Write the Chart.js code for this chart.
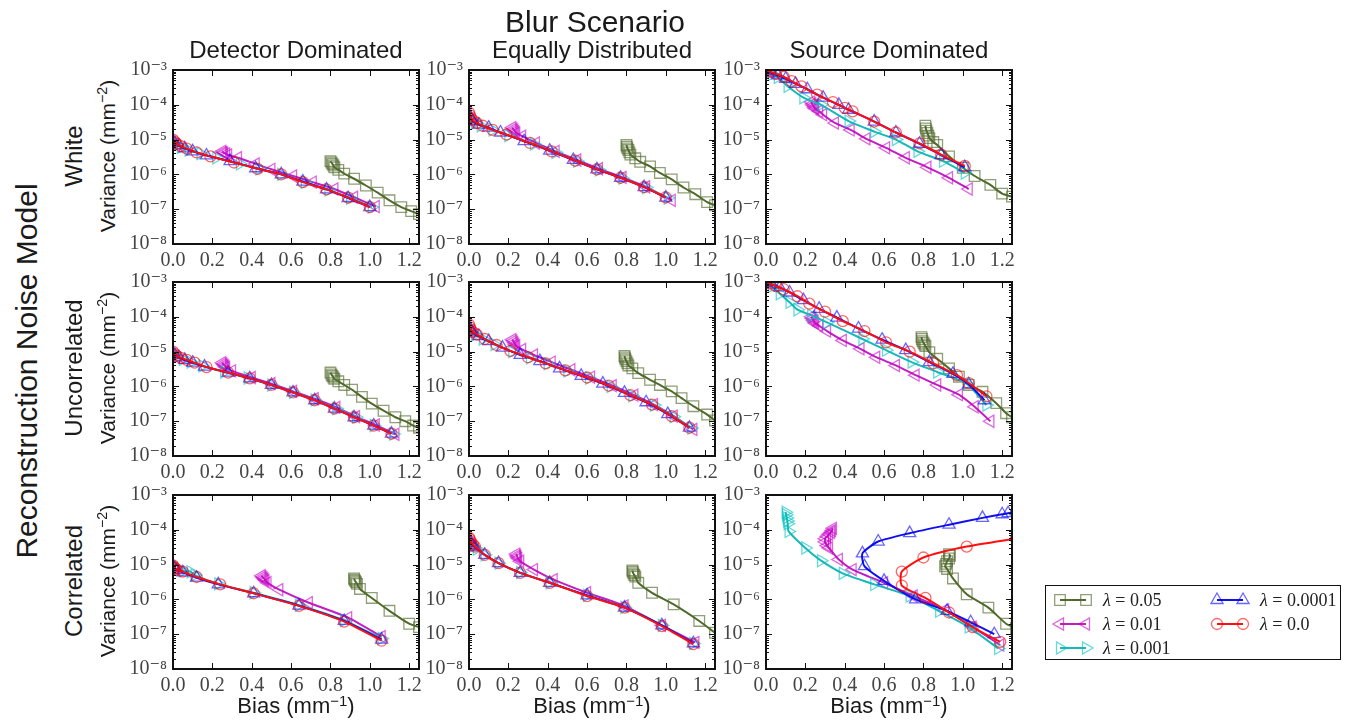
<!DOCTYPE html>
<html>
<head>
<meta charset="utf-8">
<script src="https://cdn.jsdelivr.net/npm/chart.js@4.4.1/dist/chart.umd.min.js"></script>
<style>
  body { margin: 0; background: #fff; }
  #fig { position: relative; width: 1355px; height: 721px; overflow: hidden;
         font-family: 'Liberation Sans', Arial, sans-serif; color: #1a1a1a; }
  .lbl { position: absolute; white-space: nowrap; transform: translate(-50%, -50%); line-height: 1; }
  .rot { transform: translate(-50%, -50%) rotate(-90deg); }
  canvas { position: absolute; }
  sup { font-size: 0.68em; vertical-align: 0.5em; line-height: 0; }
  #legend { position: absolute; left: 1045px; top: 585px; width: 296px; height: 75px;
            border: 1.5px solid #111; box-sizing: border-box; background: #fff; }
  .lgItem { position: absolute; display: flex; align-items: center; height: 20px;
            font-family: 'Liberation Serif', 'DejaVu Serif', serif; font-size: 18px; color: #222; }
  .lgItem canvas { position: static; margin-right: 9px; }
</style>
</head>
<body>
<div id="fig"></div>
<script>
// ---- data: bias (mm^-1), variance (mm^-2) pairs ----
const rowNames = ['White', 'Uncorrelated', 'Correlated'];
const colNames = ['Detector Dominated', 'Equally Distributed', 'Source Dominated'];
const seriesLabels = ['0.05', '0.01', '0.001', '0.0001', '0.0'];
const xTicks = [0, 0.2, 0.4, 0.6, 0.8, 1.0, 1.2];
const yTicks = [1e-8, 1e-7, 1e-6, 1e-5, 1e-4, 1e-3];

// White / Detector Dominated
const whiteDet_05 = [[0.80,2.4e-6],[0.805,2.2e-6],[0.81,2.0e-6],[0.815,1.8e-6],[0.82,1.6e-6],[0.84,1.35e-6],[0.87,1.05e-6],[0.92,7.5e-7],[0.98,4.8e-7],[1.04,3.0e-7],[1.10,1.8e-7],[1.16,1.15e-7],[1.21,8.8e-8],[1.25,7.2e-8]];
const whiteDet_01 = [[0.25,4.6e-6],[0.255,4.3e-6],[0.26,4.1e-6],[0.27,3.9e-6],[0.28,3.6e-6],[0.33,3.0e-6],[0.42,2.0e-6],[0.50,1.4e-6],[0.61,9.0e-7],[0.71,6.0e-7],[0.82,3.8e-7],[0.92,2.2e-7],[1.03,1.2e-7]];
const whiteDet_001 = [[0.0,8e-6],[0.02,7e-6],[0.04,6e-6],[0.08,5e-6],[0.14,4e-6],[0.22,3e-6],[0.34,2e-6],[0.44,1.45e-6],[0.55,1.0e-6],[0.67,6e-7],[0.79,3.6e-7],[0.90,2.1e-7],[1.01,1.15e-7]];
const whiteDet_0001 = [[0.0,9e-6],[0.01,8e-6],[0.03,6.8e-6],[0.06,5.6e-6],[0.10,4.6e-6],[0.17,3.5e-6],[0.29,2.4e-6],[0.42,1.5e-6],[0.55,1.0e-6],[0.66,6.2e-7],[0.78,3.7e-7],[0.89,2.1e-7],[1.0,1.15e-7]];
const whiteDet_0 = [[0.0,1.0e-5],[0.01,8.5e-6],[0.02,7.5e-6],[0.04,6.5e-6],[0.07,5.5e-6],[0.12,4.3e-6],[0.19,3.3e-6],[0.31,2.2e-6],[0.43,1.45e-6],[0.55,1.0e-6],[0.66,6.0e-7],[0.78,3.7e-7],[0.89,2.15e-7],[1.0,1.15e-7]];

// White / Equally Distributed
const whiteEq_05 = [[0.80,7e-6],[0.802,6.3e-6],[0.805,5.6e-6],[0.81,5e-6],[0.815,4.3e-6],[0.82,3.7e-6],[0.845,2.9e-6],[0.87,2.3e-6],[0.92,1.7e-6],[0.97,1.1e-6],[1.03,7.2e-7],[1.09,4.2e-7],[1.15,2.7e-7],[1.21,1.6e-7],[1.25,1.3e-7]];
const whiteEq_01 = [[0.22,2.2e-5],[0.225,2.0e-5],[0.23,1.85e-5],[0.235,1.7e-5],[0.24,1.55e-5],[0.27,1.25e-5],[0.34,8e-6],[0.44,4.6e-6],[0.55,2.6e-6],[0.66,1.45e-6],[0.78,8.2e-7],[0.90,4.4e-7],[1.03,1.8e-7]];
const whiteEq_001 = [[0.0,4e-5],[0.01,3.5e-5],[0.03,3e-5],[0.06,2.5e-5],[0.12,1.9e-5],[0.20,1.3e-5],[0.33,7.5e-6],[0.44,4.3e-6],[0.55,2.4e-6],[0.66,1.35e-6],[0.78,7.8e-7],[0.90,4.2e-7],[1.01,2.1e-7]];
const whiteEq_0001 = [[0.0,5e-5],[0.01,4e-5],[0.02,3.4e-5],[0.05,2.7e-5],[0.10,2.2e-5],[0.16,1.6e-5],[0.28,9e-6],[0.41,4.8e-6],[0.53,2.6e-6],[0.65,1.4e-6],[0.77,8e-7],[0.89,4.3e-7],[1.0,2.15e-7]];
const whiteEq_0 = [[0.0,6e-5],[0.005,5e-5],[0.01,4.2e-5],[0.02,3.6e-5],[0.04,3e-5],[0.07,2.5e-5],[0.12,1.9e-5],[0.19,1.4e-5],[0.31,8e-6],[0.42,4.6e-6],[0.54,2.5e-6],[0.65,1.4e-6],[0.77,8e-7],[0.89,4.3e-7],[1.0,2.2e-7]];

// White / Source Dominated
const whiteSrc_05 = [[0.81,2.5e-5],[0.812,2.1e-5],[0.815,1.8e-5],[0.82,1.55e-5],[0.825,1.3e-5],[0.83,1.1e-5],[0.85,8.5e-6],[0.87,7e-6],[0.93,3.3e-6],[1.0,1.55e-6],[1.06,9e-7],[1.14,5e-7],[1.20,2.8e-7],[1.25,2.3e-7]];
const whiteSrc_01 = [[0.23,1.2e-4],[0.235,1.05e-4],[0.24,9.5e-5],[0.245,8.5e-5],[0.25,7.8e-5],[0.27,6.5e-5],[0.29,5.2e-5],[0.35,3e-5],[0.43,1.9e-5],[0.51,1.05e-5],[0.61,5.8e-6],[0.71,3e-6],[0.82,1.6e-6],[0.93,8e-7],[1.03,3.8e-7]];
const whiteSrc_001 = [[0.0,8.5e-4],[0.03,7.5e-4],[0.06,6.2e-4],[0.11,3.4e-4],[0.19,1.6e-4],[0.28,1.0e-4],[0.42,3.4e-5],[0.55,1.7e-5],[0.66,1.0e-5],[0.77,4.6e-6],[0.90,2.4e-6],[1.01,1.1e-6]];
const whiteSrc_0001 = [[0.0,9e-4],[0.03,8e-4],[0.06,7e-4],[0.10,5.6e-4],[0.15,4e-4],[0.21,2.8e-4],[0.29,1.6e-4],[0.37,1e-4],[0.42,7.2e-5],[0.55,3.3e-5],[0.66,1.6e-5],[0.78,7.6e-6],[0.89,3.6e-6],[1.01,1.6e-6]];
const whiteSrc_0 = [[0.0,1.0e-3],[0.02,9e-4],[0.05,7.8e-4],[0.09,6.4e-4],[0.13,4.8e-4],[0.18,3.4e-4],[0.26,1.95e-4],[0.34,1.2e-4],[0.40,8.2e-5],[0.44,6.5e-5],[0.55,3.3e-5],[0.66,1.6e-5],[0.78,7.8e-6],[0.89,3.7e-6],[1.01,1.75e-6]];

// Uncorrelated / Detector Dominated
const uncDet_05 = [[0.80,2.5e-6],[0.805,2.2e-6],[0.81,2.0e-6],[0.815,1.8e-6],[0.82,1.65e-6],[0.84,1.4e-6],[0.87,1.1e-6],[0.91,8e-7],[0.96,5e-7],[1.01,3.2e-7],[1.07,2e-7],[1.13,1.3e-7],[1.18,1e-7],[1.22,7.5e-8],[1.25,6.5e-8]];
const uncDet_01 = [[0.25,4.8e-6],[0.255,4.4e-6],[0.26,4.1e-6],[0.265,3.8e-6],[0.27,3.5e-6],[0.30,2.8e-6],[0.40,1.8e-6],[0.50,1.2e-6],[0.61,7.2e-7],[0.72,4.4e-7],[0.83,2.5e-7],[0.93,1.35e-7],[1.03,7.8e-8],[1.13,4.2e-8]];
const uncDet_001 = [[0.0,8e-6],[0.02,7e-6],[0.05,6e-6],[0.09,5e-6],[0.15,3.9e-6],[0.26,2.6e-6],[0.38,1.75e-6],[0.50,1.1e-6],[0.61,6.8e-7],[0.72,4.1e-7],[0.83,2.3e-7],[0.93,1.3e-7],[1.02,7.5e-8],[1.12,4.3e-8]];
const uncDet_0001 = [[0.0,9e-6],[0.01,8e-6],[0.03,6.8e-6],[0.06,5.8e-6],[0.10,4.8e-6],[0.16,3.7e-6],[0.28,2.5e-6],[0.39,1.7e-6],[0.50,1.1e-6],[0.61,6.7e-7],[0.72,4e-7],[0.82,2.3e-7],[0.92,1.3e-7],[1.02,7.5e-8],[1.11,4.4e-8]];
const uncDet_0 = [[0.0,1.0e-5],[0.01,8.5e-6],[0.02,7.5e-6],[0.04,6.6e-6],[0.07,5.8e-6],[0.11,4.8e-6],[0.17,3.6e-6],[0.28,2.5e-6],[0.39,1.7e-6],[0.50,1.1e-6],[0.61,6.7e-7],[0.72,4e-7],[0.82,2.3e-7],[0.92,1.3e-7],[1.02,7.5e-8],[1.11,4.4e-8]];

// Uncorrelated / Equally Distributed
const uncEq_05 = [[0.79,7.5e-6],[0.792,6.8e-6],[0.795,6e-6],[0.80,5.3e-6],[0.805,4.6e-6],[0.81,4e-6],[0.83,3.3e-6],[0.86,2.4e-6],[0.92,1.55e-6],[0.97,1.1e-6],[1.03,7.2e-7],[1.08,4.6e-7],[1.14,2.7e-7],[1.21,1.55e-7],[1.25,1.05e-7]];
const uncEq_01 = [[0.22,2.2e-5],[0.225,2e-5],[0.23,1.8e-5],[0.235,1.6e-5],[0.24,1.45e-5],[0.27,1.15e-5],[0.33,8e-6],[0.42,5e-6],[0.52,3e-6],[0.62,1.85e-6],[0.73,1.05e-6],[0.84,5.6e-7],[0.94,3e-7],[1.04,1.4e-7],[1.14,5.8e-8]];
const uncEq_001 = [[0.0,4.2e-5],[0.01,3.6e-5],[0.03,3e-5],[0.07,2.3e-5],[0.13,1.6e-5],[0.22,1e-5],[0.31,6.6e-6],[0.40,4.5e-6],[0.50,2.8e-6],[0.61,1.75e-6],[0.72,1e-6],[0.83,5.4e-7],[0.94,2.9e-7],[1.04,1.35e-7],[1.13,6.3e-8]];
const uncEq_0001 = [[0.0,5e-5],[0.01,4e-5],[0.02,3.5e-5],[0.05,2.8e-5],[0.10,2e-5],[0.17,1.3e-5],[0.26,8e-6],[0.36,5.3e-6],[0.46,3.3e-6],[0.57,2e-6],[0.68,1.2e-6],[0.79,6.5e-7],[0.90,3.5e-7],[1.01,1.6e-7],[1.12,6.5e-8]];
const uncEq_0 = [[0.0,6e-5],[0.005,5e-5],[0.01,4.3e-5],[0.02,3.6e-5],[0.04,3.1e-5],[0.08,2.3e-5],[0.14,1.55e-5],[0.21,1.05e-5],[0.30,6.9e-6],[0.39,4.6e-6],[0.49,2.9e-6],[0.60,1.8e-6],[0.71,1.05e-6],[0.82,5.6e-7],[0.93,3e-7],[1.03,1.4e-7],[1.12,6.5e-8]];

// Uncorrelated / Source Dominated
const uncSrc_05 = [[0.79,2.6e-5],[0.792,2.3e-5],[0.795,2e-5],[0.80,1.8e-5],[0.805,1.6e-5],[0.81,1.45e-5],[0.83,9.6e-6],[0.87,6.2e-6],[0.93,3.3e-6],[0.98,1.9e-6],[1.03,1.1e-6],[1.10,7e-7],[1.17,3.3e-7],[1.22,1.7e-7],[1.25,1.3e-7]];
const uncSrc_01 = [[0.23,1e-4],[0.235,9e-5],[0.24,8e-5],[0.245,7.2e-5],[0.25,6.5e-5],[0.27,5.5e-5],[0.31,3.9e-5],[0.39,2.1e-5],[0.48,1.2e-5],[0.56,6.9e-6],[0.66,4e-6],[0.76,2.1e-6],[0.87,1.1e-6],[0.98,5.8e-7],[1.06,2.6e-7],[1.14,1e-7]];
const uncSrc_001 = [[0.0,9e-4],[0.03,7.5e-4],[0.07,4.6e-4],[0.12,2.6e-4],[0.16,1.6e-4],[0.23,1.1e-4],[0.31,6.9e-5],[0.49,2.3e-5],[0.61,1.1e-5],[0.74,5e-6],[0.87,2.6e-6],[1.02,1.2e-6],[1.12,2.9e-7]];
const uncSrc_0001 = [[0.0,9.5e-4],[0.03,8.5e-4],[0.07,7e-4],[0.12,5e-4],[0.19,3e-4],[0.27,1.7e-4],[0.36,9.5e-5],[0.47,4.6e-5],[0.59,2.2e-5],[0.71,1.1e-5],[0.83,5e-6],[0.95,2.3e-6],[1.03,1.15e-6],[1.11,4e-7]];
const uncSrc_0 = [[0.0,1e-3],[0.02,9e-4],[0.05,7.6e-4],[0.09,6.2e-4],[0.16,3.9e-4],[0.22,2.4e-4],[0.30,1.4e-4],[0.39,7.5e-5],[0.50,3.9e-5],[0.61,1.85e-5],[0.73,1.0e-5],[0.85,4.6e-6],[0.97,2.1e-6],[1.03,1.25e-6],[1.12,5.2e-7]];

// Correlated / Detector Dominated
const corDet_05 = [[0.92,4e-6],[0.922,3.7e-6],[0.925,3.4e-6],[0.93,3.1e-6],[0.935,2.8e-6],[0.95,2e-6],[1.01,1.1e-6],[1.10,4.7e-7],[1.20,2e-7],[1.25,1.6e-7]];
const corDet_01 = [[0.45,4.8e-6],[0.455,4.4e-6],[0.46,4.1e-6],[0.465,3.8e-6],[0.47,3.5e-6],[0.48,3e-6],[0.54,1.9e-6],[0.69,8e-7],[0.89,3e-7],[1.06,8.5e-8]];
const corDet_001 = [[0.0,8.5e-6],[0.02,7.5e-6],[0.05,6.6e-6],[0.09,6.2e-6],[0.11,5e-6],[0.23,2.8e-6],[0.41,1.55e-6],[0.64,6.8e-7],[0.87,2.5e-7],[1.06,7.5e-8]];
const corDet_0001 = [[0.0,9e-6],[0.01,8e-6],[0.02,7e-6],[0.05,6e-6],[0.12,4.2e-6],[0.23,2.7e-6],[0.41,1.5e-6],[0.64,6.6e-7],[0.87,2.4e-7],[1.06,7e-8]];
const corDet_0 = [[0.0,9.5e-6],[0.005,8.5e-6],[0.01,7.8e-6],[0.02,7.2e-6],[0.05,6.3e-6],[0.12,4.4e-6],[0.24,2.7e-6],[0.41,1.5e-6],[0.64,6.5e-7],[0.87,2.3e-7],[1.06,6.5e-8]];

// Correlated / Equally Distributed
const corEq_05 = [[0.83,6.8e-6],[0.832,6.2e-6],[0.835,5.6e-6],[0.84,5e-6],[0.845,4.5e-6],[0.86,3e-6],[0.93,1.55e-6],[1.04,7.2e-7],[1.17,2.4e-7],[1.25,1.1e-7]];
const corEq_01 = [[0.24,2e-5],[0.243,1.8e-5],[0.246,1.65e-5],[0.25,1.5e-5],[0.26,1.25e-5],[0.33,7.2e-6],[0.43,3.7e-6],[0.60,1.55e-6],[0.79,6.5e-7],[0.98,1.8e-7],[1.15,5.8e-8]];
const corEq_001 = [[0.0,4.5e-5],[0.01,3.9e-5],[0.02,3.4e-5],[0.04,2.8e-5],[0.08,1.9e-5],[0.15,1.1e-5],[0.26,5.9e-6],[0.41,3e-6],[0.60,1.3e-6],[0.79,5.9e-7],[0.98,1.8e-7],[1.14,5.4e-8]];
const corEq_0001 = [[0.0,5e-5],[0.01,4.2e-5],[0.02,3.6e-5],[0.03,3.2e-5],[0.08,1.9e-5],[0.15,1.1e-5],[0.26,5.8e-6],[0.41,3e-6],[0.60,1.3e-6],[0.79,5.8e-7],[0.98,1.8e-7],[1.14,5.5e-8]];
const corEq_0 = [[0.0,6e-5],[0.005,5.2e-5],[0.01,4.5e-5],[0.02,3.8e-5],[0.03,3.3e-5],[0.08,1.9e-5],[0.15,1.1e-5],[0.26,5.8e-6],[0.41,3e-6],[0.60,1.25e-6],[0.79,5.8e-7],[0.98,1.7e-7],[1.14,5.2e-8]];

// Correlated / Source Dominated
const corSrc_05 = [[0.93,2e-5],[0.935,1.8e-5],[0.93,1.5e-5],[0.92,1.25e-5],[0.915,1.05e-5],[0.91,9e-6],[0.92,7.5e-6],[0.95,4e-6],[1.02,1.4e-6],[1.13,5.8e-7],[1.22,2e-7],[1.27,1.5e-7]];
const corSrc_01 = [[0.34,1.1e-4],[0.335,9.5e-5],[0.33,8.5e-5],[0.32,7.5e-5],[0.31,6.5e-5],[0.30,5.5e-5],[0.30,4.5e-5],[0.31,3.5e-5],[0.32,3e-5],[0.37,1.4e-5],[0.44,7.2e-6],[0.60,3e-6],[0.75,1.25e-6],[0.91,5e-7],[1.05,1.6e-7],[1.19,4.9e-8]];
const corSrc_001 = [[0.10,3.2e-4],[0.102,2.7e-4],[0.105,2.2e-4],[0.108,1.8e-4],[0.11,1.5e-4],[0.115,9e-5],[0.20,3e-5],[0.28,1.3e-5],[0.39,5.6e-6],[0.55,2.7e-6],[0.73,1.25e-6],[0.88,4.6e-7],[1.03,1.6e-7],[1.18,3.9e-8]];
const corSrc_0001 = [[1.27,3.4e-4],[1.23,3e-4],[1.20,2.8e-4],[1.10,2.2e-4],[0.93,1.4e-4],[0.73,8e-5],[0.57,4.6e-5],[0.49,2.1e-5],[0.50,9e-6],[0.60,3.4e-6],[0.76,1e-6],[0.92,4.7e-7],[1.04,2.2e-7],[1.16,1e-7]];
const corSrc_0 = [[1.27,5.6e-5],[1.02,3.3e-5],[0.80,1.6e-5],[0.69,6.3e-6],[0.69,2.5e-6],[0.81,1.1e-6],[0.93,4.2e-7],[1.05,1.6e-7],[1.19,6e-8]];

const panels = [
  [[whiteDet_05, whiteDet_01, whiteDet_001, whiteDet_0001, whiteDet_0],
   [whiteEq_05, whiteEq_01, whiteEq_001, whiteEq_0001, whiteEq_0],
   [whiteSrc_05, whiteSrc_01, whiteSrc_001, whiteSrc_0001, whiteSrc_0]],
  [[uncDet_05, uncDet_01, uncDet_001, uncDet_0001, uncDet_0],
   [uncEq_05, uncEq_01, uncEq_001, uncEq_0001, uncEq_0],
   [uncSrc_05, uncSrc_01, uncSrc_001, uncSrc_0001, uncSrc_0]],
  [[corDet_05, corDet_01, corDet_001, corDet_0001, corDet_0],
   [corEq_05, corEq_01, corEq_001, corEq_0001, corEq_0],
   [corSrc_05, corSrc_01, corSrc_001, corSrc_0001, corSrc_0]]
];

// ---- styling / layout ----
const seriesStyle = [
  { line: '#4f6a2a', mark: 'rgba(85,107,47,0.65)', shape: 'rect', rot: 0, r: 7.5 },
  { line: '#c21cc2', mark: 'rgba(200,0,200,0.6)', shape: 'triangle', rot: -90, r: 7 },
  { line: '#17b8b8', mark: 'rgba(0,191,191,0.6)', shape: 'triangle', rot: 90, r: 7 },
  { line: '#1010ee', mark: 'rgba(0,0,255,0.6)', shape: 'triangle', rot: 0, r: 7 },
  { line: '#ff1010', mark: 'rgba(255,0,0,0.6)', shape: 'circle', rot: 0, r: 5.5 }
];
const colLeft = [173, 469, 766];
const rowTop = [68, 280, 493];
const plotW = 246, plotH = 176;
const padL = 52, padT = 16, padR = 18, padB = 32;
const tickFont = { family: "'Liberation Serif', 'DejaVu Serif', serif", size: 20 };
const supDigits = { '-': '⁻', '0': '⁰', '1': '¹', '2': '²', '3': '³', '4': '⁴', '5': '⁵', '6': '⁶', '7': '⁷', '8': '⁸', '9': '⁹' };
const pow10Label = v => '10' + String(Math.round(Math.log10(v))).split('').map(c => supDigits[c]).join('');

const fig = document.getElementById('fig');

function addLabel(html, x, y, size, rotate) {
  const d = document.createElement('div');
  d.className = 'lbl' + (rotate ? ' rot' : '');
  d.style.left = x + 'px';
  d.style.top = y + 'px';
  d.style.fontSize = size + 'px';
  d.innerHTML = html;
  fig.appendChild(d);
}

// inward ticks on all four sides + frame, like the original
const framePlugin = {
  id: 'frame',
  afterDatasetsDraw(chart) {
    const { ctx, chartArea: a, scales: { x, y } } = chart;
    ctx.save();
    ctx.strokeStyle = '#111';
    ctx.lineWidth = 1;
    ctx.beginPath();
    xTicks.forEach(v => {
      const px = Math.round(x.getPixelForValue(v)) + 0.5;
      ctx.moveTo(px, a.bottom); ctx.lineTo(px, a.bottom - 6);
      ctx.moveTo(px, a.top); ctx.lineTo(px, a.top + 6);
    });
    yTicks.forEach((v, i) => {
      const py = Math.round(y.getPixelForValue(v)) + 0.5;
      ctx.moveTo(a.left, py); ctx.lineTo(a.left + 6, py);
      ctx.moveTo(a.right, py); ctx.lineTo(a.right - 6, py);
      if (i < yTicks.length - 1) {
        for (let m = 2; m <= 9; m++) {
          const pm = Math.round(y.getPixelForValue(v * m)) + 0.5;
          ctx.moveTo(a.left, pm); ctx.lineTo(a.left + 3, pm);
          ctx.moveTo(a.right, pm); ctx.lineTo(a.right - 3, pm);
        }
      }
    });
    ctx.stroke();
    ctx.lineWidth = 2;
    ctx.strokeRect(a.left, a.top, a.right - a.left, a.bottom - a.top);
    ctx.restore();
  }
};

function makePanel(r, c) {
  const cv = document.createElement('canvas');
  const W = padL + plotW + padR, H = padT + plotH + padB;
  cv.width = W; cv.height = H;
  cv.style.width = W + 'px'; cv.style.height = H + 'px';
  cv.style.left = (colLeft[c] - padL) + 'px';
  cv.style.top = (rowTop[r] - padT) + 'px';
  fig.appendChild(cv);

  const datasets = panels[r][c].map((pts, i) => {
    const st = seriesStyle[i];
    return {
      label: 'λ = ' + seriesLabels[i],
      data: pts.map(([x, y]) => ({ x, y })),
      showLine: true,
      borderColor: st.line,
      borderWidth: 2,
      tension: 0.2,
      pointStyle: st.shape,
      pointRotation: st.rot,
      pointRadius: st.r,
      pointBorderColor: st.mark,
      pointBorderWidth: 1.3,
      pointBackgroundColor: 'rgba(0,0,0,0)',
      order: 5 - i,
      clip: 0
    };
  });

  new Chart(cv, {
    type: 'scatter',
    data: { datasets },
    options: {
      responsive: false,
      animation: false,
      devicePixelRatio: 1,
      layout: { padding: { left: 0, top: padT, right: padR, bottom: 0 } },
      plugins: { legend: { display: false }, tooltip: { enabled: false } },
      scales: {
        x: {
          type: 'linear', min: 0, max: 1.25,
          afterBuildTicks: s => { s.ticks = xTicks.map(v => ({ value: v })); },
          afterFit: s => { s.height = padB; },
          grid: { display: false, drawTicks: false },
          border: { display: false },
          ticks: { font: tickFont, color: '#444', padding: 5, maxRotation: 0, autoSkip: false,
                   callback: v => Number(v).toFixed(1) }
        },
        y: {
          type: 'logarithmic', min: 1e-8, max: 1e-3,
          afterBuildTicks: s => { s.ticks = yTicks.map(v => ({ value: v })); },
          afterFit: s => { s.width = padL; },
          grid: { display: false, drawTicks: false },
          border: { display: false },
          ticks: { font: tickFont, color: '#444', padding: 6, autoSkip: false,
                   callback: v => pow10Label(v) }
        }
      }
    },
    plugins: [framePlugin]
  });
}

for (let r = 0; r < 3; r++) for (let c = 0; c < 3; c++) makePanel(r, c);

// ---- text ----
addLabel('Blur Scenario', 595, 22, 30);
colNames.forEach((t, c) => addLabel(t, colLeft[c] + plotW / 2, 50, 24));
rowNames.forEach((t, r) => {
  addLabel(t, 74, rowTop[r] + plotH / 2, 24, true);
  addLabel('Variance (mm<sup>−2</sup>)', 107, rowTop[r] + plotH / 2, 21, true);
});
colLeft.forEach(x0 => addLabel('Bias (mm<sup>−1</sup>)', x0 + plotW / 2, 706, 22));
addLabel('Reconstruction Noise Model', 27, 371, 30, true);

// ---- legend ----
const legend = document.createElement('div');
legend.id = 'legend';
fig.appendChild(legend);

function drawMarker(ctx, st, x, y) {
  ctx.save();
  ctx.translate(x, y);
  ctx.rotate(st.rot * Math.PI / 180);
  ctx.beginPath();
  const r = st.r;
  if (st.shape === 'rect') {
    const s = r * Math.SQRT1_2;
    ctx.rect(-s, -s, 2 * s, 2 * s);
  } else if (st.shape === 'circle') {
    ctx.arc(0, 0, r, 0, 2 * Math.PI);
  } else {
    for (let k = 0; k < 3; k++) {
      const a = k * 2 * Math.PI / 3;
      ctx[k ? 'lineTo' : 'moveTo'](Math.sin(a) * r, -Math.cos(a) * r);
    }
    ctx.closePath();
  }
  ctx.strokeStyle = st.mark;
  ctx.lineWidth = 1.3;
  ctx.stroke();
  ctx.restore();
}

const legendPos = [[6, 4], [6, 28], [6, 52], [163, 4], [163, 28]];
seriesLabels.forEach((lab, i) => {
  const st = seriesStyle[i];
  const item = document.createElement('div');
  item.className = 'lgItem';
  item.style.left = legendPos[i][0] + 'px';
  item.style.top = legendPos[i][1] + 'px';
  const cv = document.createElement('canvas');
  cv.width = 42; cv.height = 20;
  const ctx = cv.getContext('2d');
  ctx.strokeStyle = st.line; ctx.lineWidth = 2;
  ctx.beginPath(); ctx.moveTo(8, 10); ctx.lineTo(34, 10); ctx.stroke();
  drawMarker(ctx, st, 8, 10);
  drawMarker(ctx, st, 34, 10);
  item.appendChild(cv);
  const t = document.createElement('span');
  t.innerHTML = '<i>λ</i> = ' + lab;
  item.appendChild(t);
  legend.appendChild(item);
});
</script>
</body>
</html>
